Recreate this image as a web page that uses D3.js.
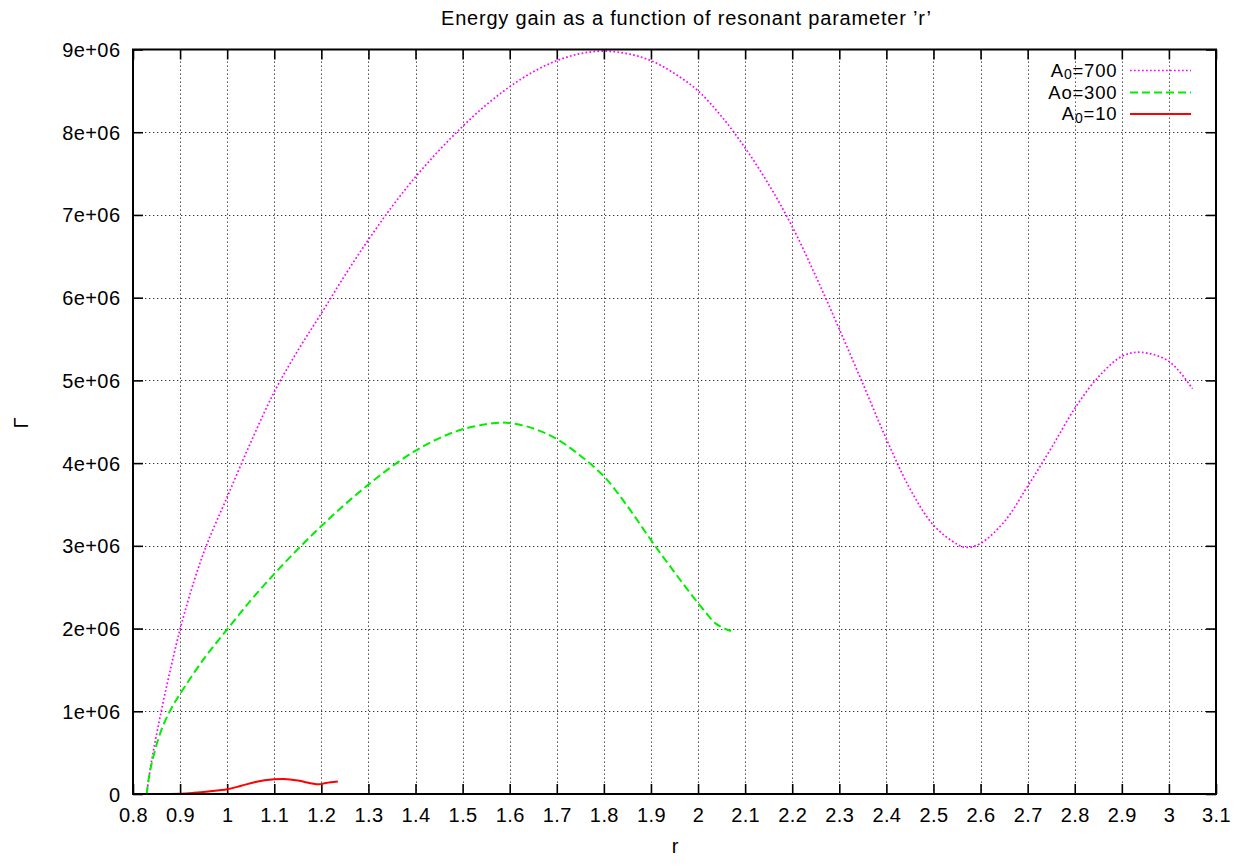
<!DOCTYPE html>
<html>
<head>
<meta charset="utf-8">
<script src="https://cdn.jsdelivr.net/npm/d3@7"></script>
<style>
  html, body { margin: 0; padding: 0; background: #fff; }
  svg { display: block; }
  text { font-family: "Liberation Sans", Arial, Helvetica, sans-serif; fill: #000; }
</style>
</head>
<body>
<svg id="chart" width="1243" height="867"></svg>
<script>
// ---- data ----
const xTicks = [0.8,0.9,1,1.1,1.2,1.3,1.4,1.5,1.6,1.7,1.8,1.9,2,2.1,2.2,2.3,2.4,2.5,2.6,2.7,2.8,2.9,3,3.1];
const xTickLabels = ["0.8","0.9","1","1.1","1.2","1.3","1.4","1.5","1.6","1.7","1.8","1.9","2","2.1","2.2","2.3","2.4","2.5","2.6","2.7","2.8","2.9","3","3.1"];
const yTicks = [0,1e6,2e6,3e6,4e6,5e6,6e6,7e6,8e6,9e6];
const yTickLabels = ["0","1e+06","2e+06","3e+06","4e+06","5e+06","6e+06","7e+06","8e+06","9e+06"];

// A0 = 700 (magenta, dotted)
const r700 = [0.829,0.838,0.848,0.869,0.90,0.93,0.957,1.0,1.05,1.1,1.15,1.2,1.25,1.3,1.35,1.4,1.45,1.5,1.55,1.6,1.65,1.7,1.75,1.8,1.85,1.9,1.95,2.0,2.05,2.1,2.15,2.2,2.25,2.3,2.35,2.4,2.45,2.5,2.55,2.57,2.6,2.65,2.7,2.75,2.8,2.85,2.9,2.94,3.0,3.05];
const g700 = [0,0.35e6,0.66e6,1.24e6,1.99e6,2.58e6,3.02e6,3.59e6,4.25e6,4.86e6,5.36e6,5.81e6,6.27e6,6.70e6,7.10e6,7.46e6,7.78e6,8.07e6,8.33e6,8.55e6,8.73e6,8.865e6,8.95e6,8.98e6,8.95e6,8.865e6,8.71e6,8.50e6,8.19e6,7.81e6,7.37e6,6.86e6,6.26e6,5.62e6,4.96e6,4.29e6,3.69e6,3.25e6,3.02e6,2.98e6,3.03e6,3.29e6,3.72e6,4.18e6,4.66e6,5.04e6,5.29e6,5.34e6,5.23e6,4.90e6];

// Ao = 300 (green, dashed)
const r300 = [0.829,0.835,0.845,0.86,0.88,0.9,0.95,1.0,1.05,1.1,1.15,1.2,1.25,1.3,1.35,1.4,1.45,1.5,1.55,1.58,1.6,1.65,1.7,1.75,1.8,1.85,1.9,1.95,2.0,2.04,2.07];
const g300 = [0,0.24e6,0.49e6,0.77e6,1.02e6,1.21e6,1.63e6,1.99e6,2.34e6,2.66e6,2.96e6,3.24e6,3.50e6,3.74e6,3.96e6,4.15e6,4.30e6,4.41e6,4.47e6,4.49e6,4.485e6,4.42e6,4.29e6,4.09e6,3.84e6,3.48e6,3.07e6,2.68e6,2.31e6,2.05e6,1.97e6];

// A0 = 10 (red, solid)
const r10 = [0.83,0.9,0.93,0.96,1.0,1.03,1.06,1.1,1.12,1.15,1.18,1.195,1.21,1.235];
const g10 = [0,0.003e6,0.014e6,0.030e6,0.057e6,0.10e6,0.145e6,0.177e6,0.181e6,0.162e6,0.127e6,0.117e6,0.133e6,0.150e6];

const seriesNames = ["A0=700","Ao=300","A0=10"];

// ---- layout ----
const svg = d3.select("#chart");
const L = 133, R = 1216, T = 49.5, B = 794;
const x = d3.scaleLinear().domain([0.8, 3.1]).range([L, R]);
const y = d3.scaleLinear().domain([0, 9e6]).range([B, T]);
const FS = 20, LS = 0.4;

// grid
const grid = svg.append("g").attr("stroke", "#333").attr("stroke-width", 1).attr("stroke-dasharray", "1.3,2.7");
grid.selectAll("line.gx").data(xTicks.slice(1, -1)).enter().append("line")
  .attr("x1", d => Math.round(x(d)) + 0.5).attr("x2", d => Math.round(x(d)) + 0.5)
  .attr("y1", T).attr("y2", B);
grid.selectAll("line.gy").data(yTicks.slice(1, -1)).enter().append("line")
  .attr("y1", d => Math.round(y(d)) + 0.5).attr("y2", d => Math.round(y(d)) + 0.5)
  .attr("x1", L).attr("x2", R);

// axes via d3 (inward ticks on all sides)
const tl = 10;
const xb = d3.axisBottom(x).tickValues(xTicks).tickFormat((d, i) => xTickLabels[i]).tickSizeInner(-tl).tickSizeOuter(0);
const xt = d3.axisTop(x).tickValues(xTicks).tickFormat("").tickSizeInner(-tl).tickSizeOuter(0);
const yl = d3.axisLeft(y).tickValues(yTicks).tickFormat((d, i) => yTickLabels[i]).tickSizeInner(-tl).tickSizeOuter(0);
const yr = d3.axisRight(y).tickValues(yTicks).tickFormat("").tickSizeInner(-tl).tickSizeOuter(0);

function styleAxis(g) {
  g.select(".domain").remove();
  g.selectAll(".tick line").attr("stroke", "#000").attr("stroke-width", 1.6);
  g.selectAll(".tick text").attr("font-size", FS).attr("letter-spacing", LS)
    .attr("font-family", "Liberation Sans, Arial, sans-serif").attr("fill", "#000");
}
const gxb = svg.append("g").attr("transform", `translate(0,${B})`).call(xb).call(styleAxis);
gxb.selectAll(".tick text").attr("dy", null).attr("y", 28);
svg.append("g").attr("transform", `translate(0,${T})`).call(xt).call(styleAxis);
const gyl = svg.append("g").attr("transform", `translate(${L},0)`).call(yl).call(styleAxis);
gyl.selectAll(".tick text").attr("x", 120 - L + LS).attr("dy", "0.35em");
svg.append("g").attr("transform", `translate(${R},0)`).call(yr).call(styleAxis);

// series lines
const line = d3.line().x(d => x(d[0])).y(d => y(d[1])).curve(d3.curveCatmullRom.alpha(0.5));
svg.append("clipPath").attr("id", "clip").append("rect").attr("x", L).attr("y", T - 2).attr("width", R - L).attr("height", B - T + 2);

const s700 = r700.map((r, i) => [r, g700[i]]);
const s300 = r300.map((r, i) => [r, g300[i]]);
const s10 = r10.map((r, i) => [r, g10[i]]);

const styles = [
  { color: "#ff00ff", width: 1.7, dash: "1.7,2.3" },
  { color: "#00ee00", width: 2.0, dash: "8,4" },
  { color: "#ff0000", width: 2.0, dash: null }
];

const lines = svg.append("g").attr("clip-path", "url(#clip)");
[s700, s300, s10].forEach((s, i) => {
  const p = lines.append("path").datum(s).attr("d", line)
    .attr("fill", "none").attr("stroke", styles[i].color)
    .attr("stroke-width", styles[i].width).attr("stroke-linejoin", "round");
  if (styles[i].dash) p.attr("stroke-dasharray", styles[i].dash);
});

// border
svg.append("rect").attr("x", L).attr("y", T).attr("width", R - L).attr("height", B - T)
  .attr("fill", "none").attr("stroke", "#000").attr("stroke-width", 2);

// legend
const LFS = 18.5;
const legY = [70, 92, 113.5];
const leg = svg.append("g");
seriesNames.forEach((name, i) => {
  const t = leg.append("text").attr("x", 1117 + LS).attr("y", legY[i] + 6.5)
    .attr("text-anchor", "end").attr("font-size", LFS).attr("letter-spacing", 0.8);
  if (name.startsWith("A0")) {
    t.append("tspan").text("A");
    t.append("tspan").text("0").attr("font-size", 14).attr("dy", 2.5);
    t.append("tspan").text(name.slice(2)).attr("dy", -2.5);
  } else {
    t.text(name);
  }
  const l = leg.append("line").attr("x1", 1130).attr("x2", 1191)
    .attr("y1", legY[i] + 0.5).attr("y2", legY[i] + 0.5)
    .attr("stroke", styles[i].color).attr("stroke-width", styles[i].width);
  if (styles[i].dash) l.attr("stroke-dasharray", styles[i].dash);
});

// titles
svg.append("text").attr("x", 441).attr("y", 25).attr("font-size", FS).attr("letter-spacing", 0.8)
  .text("Energy gain as a function of resonant parameter \u2019r\u2019");
svg.append("text").attr("x", 675).attr("y", 853).attr("text-anchor", "middle").attr("font-size", FS).text("r");
svg.append("text").attr("transform", "translate(28,423) rotate(-90)").attr("text-anchor", "middle")
  .attr("font-size", FS).text("\u0393");
</script>
</body>
</html>
